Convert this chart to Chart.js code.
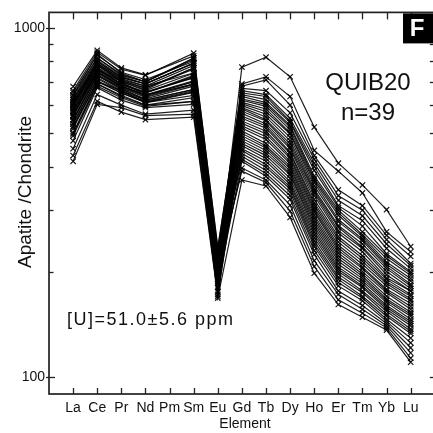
<!DOCTYPE html>
<html>
<head>
<meta charset="utf-8">
<script src="https://cdn.jsdelivr.net/npm/chart.js@4.4.1/dist/chart.umd.min.js"></script>
<style>
  html, body { margin: 0; padding: 0; overflow: hidden; background: #fff; }
  canvas { display: block; }
</style>
</head>
<body>
<canvas id="ree" width="440" height="433"></canvas>
<script>
// Chondrite-normalised REE patterns of apatite grains (Pm not measured)
const elements = ['La','Ce','Pr','Nd','Pm','Sm','Eu','Gd','Tb','Dy','Ho','Er','Tm','Yb','Lu'];
const labelledTicks = [100, 1000];
const sampleName = 'QUIB20';
const sampleCount = 'n=39';
const uraniumNote = '[U]=51.0±5.6 ppm';
const panelTag = 'F';

//             La   Ce   Pr   Nd   Pm    Sm   Eu   Gd   Tb   Dy   Ho   Er   Tm   Yb   Lu
const g01 = [560, 760, 700, 640, null, 690, 205, 771, 823, 723, 519, 409, 354, 301, 236];
const g02 = [640, 840, 740, 700, null, 810, 225, 690, 723, 635, 445, 388, 336, 260, 228];
const g03 = [610, 800, 720, 690, null, 790, 215, 680, 709, 600, 430, 343, 309, 254, 221];
const g04 = [660, 850, 760, 730, null, 845, 232, 670, 660, 570, 420, 330, 300, 247, 211];
const g05 = [590, 780, 700, 660, null, 740, 210, 660, 643, 550, 409, 320, 289, 240, 208];
const g06 = [630, 820, 730, 700, null, 818, 222, 650, 635, 540, 400, 309, 280, 233, 204];
const g07 = [545, 730, 670, 620, null, 665, 195, 643, 622, 535, 390, 305, 270, 225, 200];
const g08 = [678, 861, 767, 733, null, 830, 236, 635, 610, 525, 376, 300, 260, 222, 198];
const g09 = [600, 790, 710, 680, null, 780, 212, 625, 603, 519, 370, 295, 255, 218, 195];
const g10 = [520, 700, 660, 610, null, 640, 190, 620, 595, 510, 365, 290, 252, 213, 191];
const g11 = [652, 834, 745, 710, null, 800, 225, 611, 585, 500, 360, 282, 248, 210, 188];
const g12 = [575, 760, 690, 650, null, 720, 205, 605, 575, 496, 352, 278, 245, 207, 184];
const g13 = [500, 690, 640, 600, null, 615, 185, 598, 565, 485, 345, 271, 240, 204, 182];
const g14 = [623, 807, 725, 690, null, 792, 218, 590, 555, 474, 340, 268, 235, 200, 179];
const g15 = [560, 750, 680, 640, null, 700, 200, 585, 545, 465, 336, 262, 233, 196, 176];
const g16 = [595, 770, 700, 665, null, 767, 210, 576, 540, 456, 330, 258, 228, 192, 176];
const g17 = [474, 673, 620, 590, null, 603, 180, 568, 530, 450, 322, 252, 222, 190, 172];
const g18 = [540, 733, 673, 631, null, 687, 198, 558, 523, 440, 315, 248, 218, 187, 170];
const g19 = [613, 790, 715, 680, null, 742, 215, 550, 515, 436, 310, 243, 214, 185, 167];
const g20 = [450, 643, 600, 565, null, 580, 175, 540, 505, 428, 305, 238, 210, 182, 165];
const g21 = [585, 767, 690, 655, null, 718, 208, 532, 497, 422, 300, 234, 206, 178, 162];
const g22 = [513, 700, 650, 610, null, 652, 190, 523, 487, 414, 296, 230, 204, 176, 159];
const g23 = [570, 745, 680, 640, null, 700, 200, 515, 478, 408, 290, 226, 200, 174, 156];
const g24 = [430, 615, 573, 545, null, 554, 170, 506, 466, 401, 285, 222, 197, 170, 153];
const g25 = [640, 818, 735, 700, null, 818, 228, 498, 458, 395, 280, 218, 194, 167, 151];
const g26 = [530, 720, 660, 620, null, 665, 193, 490, 452, 388, 275, 214, 191, 165, 149];
const g27 = [496, 690, 635, 600, null, 630, 185, 482, 445, 382, 270, 210, 188, 163, 146];
const g28 = [605, 785, 705, 672, null, 760, 212, 474, 437, 378, 265, 206, 185, 160, 144];
const g29 = [414, 603, 590, 560, null, 565, 172, 466, 430, 370, 260, 203, 182, 158, 142];
const g30 = [555, 740, 675, 635, null, 690, 198, 459, 422, 362, 255, 200, 180, 156, 140];
const g31 = [580, 760, 690, 650, null, 730, 204, 450, 414, 356, 250, 197, 176, 154, 137];
const g32 = [620, 800, 720, 690, null, 792, 220, 445, 405, 350, 245, 193, 174, 151, 135];
const g33 = [520, 705, 650, 612, null, 655, 190, 436, 398, 345, 240, 190, 170, 149, 133];
const g34 = [560, 745, 680, 642, null, 705, 200, 428, 390, 338, 236, 186, 168, 146, 129];
const g35 = [600, 780, 705, 670, null, 767, 210, 420, 382, 330, 230, 182, 165, 144, 125];
const g36 = [490, 680, 630, 595, null, 615, 182, 414, 375, 322, 224, 176, 160, 142, 121];
const g37 = [545, 730, 665, 625, null, 680, 196, 396, 366, 310, 215, 172, 156, 140, 117];
const g38 = [575, 755, 685, 650, null, 725, 203, 388, 360, 298, 207, 166, 152, 138, 113];
const g39 = [530, 715, 655, 615, null, 660, 168, 366, 352, 286, 198, 161, 148, 136, 110];

const grains = [g01,g02,g03,g04,g05,g06,g07,g08,g09,g10,g11,g12,g13,g14,g15,g16,g17,g18,g19,g20,
                g21,g22,g23,g24,g25,g26,g27,g28,g29,g30,g31,g32,g33,g34,g35,g36,g37,g38,g39];

const FONT = "'Liberation Sans', Arial, sans-serif";
const INK = '#111';

const datasets = grains.map((vals, k) => ({
  label: 'grain ' + (k + 1),
  data: vals.map((v, i) => ({ x: i, y: v })).filter(p => p.y !== null),
  borderColor: 'rgba(0,0,0,0.88)',
  borderWidth: 1.2,
  pointStyle: 'crossRot',
  pointRadius: 3.8,
  pointBorderWidth: 1.2,
  pointBorderColor: 'rgba(0,0,0,0.9)',
  pointBackgroundColor: 'rgba(0,0,0,0)',
  fill: false,
  tension: 0
}));

// frame, inward ticks and annotations
const decorations = {
  id: 'decorations',
  afterDatasetsDraw(chart) {
    const { ctx, chartArea: a, scales: { x, y } } = chart;
    const seg = (x1, y1, x2, y2) => { ctx.beginPath(); ctx.moveTo(x1, y1); ctx.lineTo(x2, y2); ctx.stroke(); };
    ctx.save();
    ctx.strokeStyle = '#222';
    ctx.lineWidth = 1.7;
    ctx.strokeRect(a.left, a.top, a.right - a.left, a.bottom - a.top);

    ctx.lineWidth = 1.3;
    elements.forEach((_, i) => {
      const px = Math.round(x.getPixelForValue(i)) + 0.5;
      seg(px, a.top, px, a.top + 7);
      seg(px, a.bottom, px, a.bottom - 6);
    });
    for (let v = 100; v <= 1000; v += 100) {
      const py = Math.round(y.getPixelForValue(v)) + 0.5;
      const major = labelledTicks.includes(v);
      seg(major ? a.left - 3 : a.left, py, a.left + (major ? 6 : 4.5), py);
      seg(a.right - 5, py, a.right, py);
    }

    ctx.fillStyle = INK;
    ctx.textAlign = 'center';
    ctx.textBaseline = 'middle';
    ctx.font = '24px ' + FONT;
    ctx.fillText(sampleName, 368, 83);
    ctx.fillText(sampleCount, 368, 113);

    ctx.textAlign = 'left';
    ctx.font = '18px ' + FONT;
    ctx.letterSpacing = '1.5px';
    ctx.fillText(uraniumNote, 67, 320);
    ctx.letterSpacing = '0px';

    ctx.textAlign = 'center';
    ctx.font = '14px ' + FONT;
    ctx.fillText('Element', 245, 424);

    ctx.save();
    ctx.translate(26, 192);
    ctx.rotate(-Math.PI / 2);
    ctx.font = '19px ' + FONT;
    ctx.fillText('Apatite /Chondrite', 0, 0);
    ctx.restore();

    ctx.fillStyle = '#000';
    ctx.fillRect(403, a.top + 1, a.right - 403, 30);
    ctx.fillStyle = '#fff';
    ctx.font = 'bold 24px ' + FONT;
    ctx.fillText(panelTag, 417, a.top + 17);
    ctx.restore();
  }
};

new Chart(document.getElementById('ree'), {
  type: 'line',
  data: { datasets },
  options: {
    responsive: false,
    animation: false,
    events: [],
    layout: { padding: { top: 7, right: 4, left: 0, bottom: 0 } },
    plugins: { legend: { display: false }, tooltip: { enabled: false } },
    scales: {
      x: {
        type: 'linear',
        min: -1,
        max: 15,
        grid: { display: false, drawTicks: false },
        border: { display: false },
        afterFit: s => { s.height = 39; },
        afterBuildTicks: s => { s.ticks = elements.map((_, i) => ({ value: i })); },
        ticks: {
          autoSkip: false,
          maxRotation: 0,
          minRotation: 0,
          padding: 6,
          color: INK,
          font: { family: FONT, size: 14 },
          callback: v => elements[v] ?? ''
        }
      },
      y: {
        type: 'logarithmic',
        min: 89.2,
        max: 1106,
        grid: { display: false, drawTicks: false },
        border: { display: false },
        afterFit: s => { s.width = 49; },
        afterBuildTicks: s => { s.ticks = labelledTicks.map(v => ({ value: v })); },
        ticks: {
          autoSkip: false,
          padding: 4,
          color: INK,
          font: { family: FONT, size: 14 },
          callback: v => String(v)
        }
      }
    }
  },
  plugins: [decorations]
});
</script>
</body>
</html>
